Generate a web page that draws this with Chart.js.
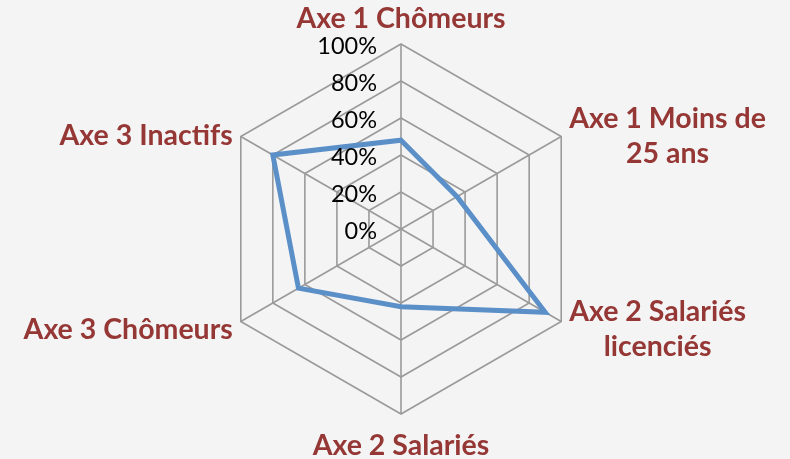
<!DOCTYPE html>
<html>
<head>
<meta charset="utf-8">
<script src="https://cdn.jsdelivr.net/npm/chart.js@4"></script>
<style>
  html, body { margin: 0; padding: 0; background: #f4f4f4; }
  #wrap { width: 790px; height: 459px; }
</style>
</head>
<body>
<div id="wrap"><canvas id="radarChart"></canvas></div>
<script>
const axes = [
  ["Axe 1 Chômeurs"],
  ["Axe 1 Moins de", "25 ans"],
  ["Axe 2 Salariés", "licenciés"],
  ["Axe 2 Salariés"],
  ["Axe 3 Chômeurs"],
  ["Axe 3 Inactifs"]
];
const values = [0.48, 0.35, 0.90, 0.42, 0.64, 0.80];
const tickValues = [0, 0.2, 0.4, 0.6, 0.8, 1];

const labelRed = '#953735';
const gridGrey = '#9a9a9a';

// axis names and percentage ticks, drawn by hand so they can sit where Excel puts them
const labelPlugin = {
  id: 'axisText',
  afterDraw(chart) {
    const scale = chart.scales.r;
    const ctx = chart.ctx;
    ctx.save();

    ctx.font = '23.5px Lato';
    ctx.fillStyle = '#000';
    ctx.textAlign = 'right';
    ctx.textBaseline = 'middle';
    tickValues.forEach(v => {
      const d = scale.getDistanceFromCenterForValue(v);
      ctx.fillText(Math.round(v * 100) + '%', scale.xCenter - 24, scale.yCenter - d + 2);
    });

    ctx.font = 'bold 28.5px Lato';
    ctx.fillStyle = labelRed;
    ctx.textBaseline = 'middle';
    const lineH = 35;
    axes.forEach((lines, i) => {
      const p = scale.getPointPosition(i, scale.drawingArea);
      const widest = Math.max(...lines.map(l => ctx.measureText(l).width));
      const blockH = lines.length * lineH;
      let cx, top;
      if (i === 0) {
        cx = p.x; top = p.y - 25 - blockH / 2;
      } else if (i === 3) {
        cx = p.x; top = p.y + 32 - blockH / 2;
      } else if (i < 3) {
        cx = p.x + 8 + widest / 2;
        top = p.y + (i === 2 ? 8 : 0) - blockH / 2;
      } else {
        cx = p.x - 8 - widest / 2;
        top = p.y + (i === 4 ? 8 : -1) - blockH / 2;
      }
      ctx.textAlign = 'center';
      lines.forEach((l, k) => ctx.fillText(l, cx, top + lineH * (k + 0.5)));
    });
    ctx.restore();
  }
};

new Chart(document.getElementById('radarChart'), {
  type: 'radar',
  data: {
    labels: axes,
    datasets: [{
      data: values,
      borderColor: '#5b8fc8',
      borderWidth: 5,
      backgroundColor: 'transparent',
      fill: false,
      pointRadius: 0,
      tension: 0
    }]
  },
  options: {
    responsive: true,
    maintainAspectRatio: false,
    animation: false,
    layout: { padding: { top: 44, bottom: 44, left: 216, right: 204 } },
    plugins: { legend: { display: false }, tooltip: { enabled: false } },
    scales: {
      r: {
        min: 0,
        max: 1,
        ticks: { display: false, stepSize: 0.2 },
        grid: { color: gridGrey, lineWidth: 1.6 },
        angleLines: { color: gridGrey, lineWidth: 1.6 },
        pointLabels: { display: false }
      }
    }
  },
  plugins: [labelPlugin]
});
</script>
</body>
</html>
